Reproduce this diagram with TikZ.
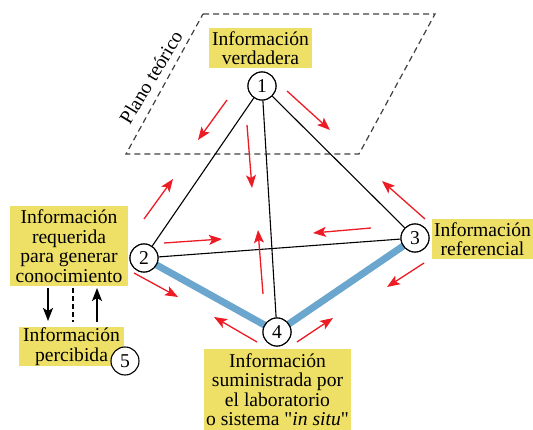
\documentclass[tikz,border=0pt]{standalone}
\usepackage{fontspec}
\setmainfont{Liberation Serif}[Ligatures=TeXOff]
\usetikzlibrary{arrows.meta}
\definecolor{boxy}{RGB}{238,224,102}
\definecolor{linkblue}{RGB}{107,166,206}
\definecolor{arrred}{RGB}{237,28,36}
\begin{document}
\begin{tikzpicture}[x=1pt,y=-1pt,
  txt/.style={font=\fontsize{19.6}{19.5}\selectfont},
  ybox/.style={txt, fill=boxy, inner sep=0pt, align=center},
  num/.style={txt, circle, draw, fill=white, line width=1.1pt, minimum size=28pt, inner sep=0pt},
  edgeline/.style={line width=1.1pt},
  blueedge/.style={line width=7pt, linkblue},
  flow/.style={arrred, line width=1.3pt, -{Stealth[length=13pt,width=10pt,inset=3pt]}},
  bflow/.style={black, line width=1.3pt, -{Stealth[length=13pt,width=10pt,inset=3pt]}},
  plane/.style={dash pattern=on 6pt off 4pt, line width=1.2pt, black!75},
  sdash/.style={dash pattern=on 5pt off 3pt, line width=1.1pt, black}
]
\useasboundingbox (0,0) rectangle (533,430);

% theoretical plane
\coordinate (p1) at (203,14);
\coordinate (p2) at (435,14);
\coordinate (p3) at (359,154);
\coordinate (p4) at (126,154);
\draw[plane] (p1) -- (p2) -- (p3) -- (p4) -- cycle;
\node[txt, rotate=59] (plano) at (151,77) {Plano teórico};

% boxes
\node[ybox, minimum width=103pt, minimum height=40pt] (b1) at (260.5,48) {Información\\verdadera};
\node[ybox, minimum width=118pt, minimum height=80pt] (b2) at (69,246) {Información\\requerida\\para generar\\conocimiento};
\node[ybox, minimum width=105pt, minimum height=39pt] (b5) at (71.5,346.5) {Información\\percibida};
\node[ybox, minimum width=101pt, minimum height=40pt] (b3) at (482.5,239) {Información\\referencial};
\node[ybox, minimum width=147pt, minimum height=81pt] (b4) at (277.5,389.5) {Información\\suministrada por\\el laboratorio\\o sistema "\textit{in situ}"};

% circle positions
\coordinate (c1) at (262,86);
\coordinate (c2) at (144,258);
\coordinate (c3) at (415,238);
\coordinate (c4) at (277,332);
\coordinate (c5) at (125,361);

% thick blue edges
\draw[blueedge] (c2) -- (c4) -- (c3);

% black edges
\node[num] (n1) at (c1) {1};
\node[num] (n2) at (c2) {2};
\node[num] (n3) at (c3) {3};
\node[num] (n4) at (c4) {4};
\draw[edgeline] (n1) -- (n2);
\draw[edgeline] (n1) -- (n3);
\draw[edgeline] (n1) -- (n4);
\draw[edgeline] (n2) -- (n3);

% redraw circles on top
\node[num] at (c1) {1};
\node[num] at (c2) {2};
\node[num] at (c3) {3};
\node[num] at (c4) {4};
\node[num] (n5) at (c5) {5};

% red flow arrows
\coordinate (a1s) at (227,100); \coordinate (a1e) at (198,140);
\coordinate (a2s) at (287,91);  \coordinate (a2e) at (330,130);
\coordinate (a3s) at (247,125); \coordinate (a3e) at (252,188);
\coordinate (a4s) at (144,219); \coordinate (a4e) at (173,179);
\coordinate (a5s) at (164,243); \coordinate (a5e) at (222,239);
\coordinate (a6s) at (263,294); \coordinate (a6e) at (258,230);
\coordinate (a7s) at (371,228); \coordinate (a7e) at (313,233);
\coordinate (a8s) at (134,273); \coordinate (a8e) at (178,297);
\coordinate (a9s) at (425,219); \coordinate (a9e) at (382,181);
\coordinate (a10s) at (424,263); \coordinate (a10e) at (387,287);
\coordinate (a11s) at (257,342); \coordinate (a11e) at (214,317);
\coordinate (a12s) at (297,342); \coordinate (a12e) at (333,318);
\foreach \i in {1,...,12}{
  \draw[flow] (a\i s) -- (a\i e);
}

% black arrows between box 2 and box 5
\coordinate (k1s) at (48,288); \coordinate (k1e) at (48,321);
\coordinate (k2s) at (73,288); \coordinate (k2e) at (73,322);
\coordinate (k3s) at (97,322); \coordinate (k3e) at (97,288);
\draw[bflow] (k1s) -- (k1e);
\draw[sdash] (k2s) -- (k2e);
\draw[bflow] (k3s) -- (k3e);
\end{tikzpicture}
\end{document}
